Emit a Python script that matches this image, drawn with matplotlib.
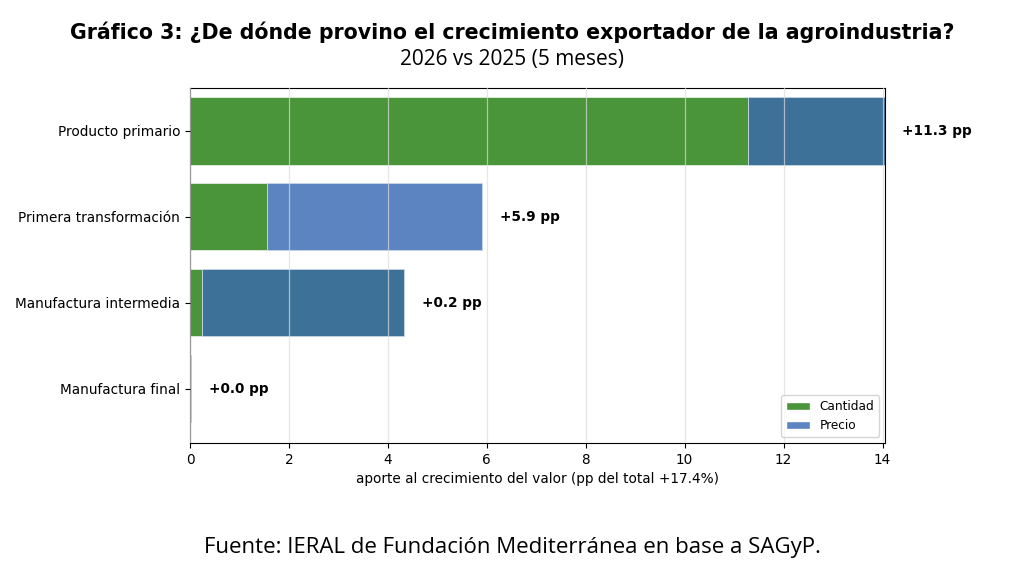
import numpy as np
import matplotlib.pyplot as plt
from matplotlib.patches import Patch

categorias = ['Producto primario', 'Primera transformación', 'Manufactura intermedia', 'Manufactura final']
cantidad = [11.29, 1.55, 0.24, 0.0]
precio = [2.76, 4.36, 4.09, 0.03]
etiquetas = ['+11.3 pp', '+5.9 pp', '+0.2 pp', '+0.0 pp']
color_precio = ['#3d7198', '#5b84c1', '#3d7198', '#5b84c1']

fig = plt.figure(figsize=(10.24, 5.63), dpi=100)
ax = fig.add_axes([190/1024, 1 - 443/563, 695/1024, 355/563])

y = np.arange(len(categorias))
total = np.array(cantidad) + np.array(precio)

ax.barh(y, cantidad, height=0.78, color='#4a943a', edgecolor='white', linewidth=0.4, zorder=2)
ax.barh(y, precio, left=cantidad, height=0.78, color=color_precio, edgecolor='#c8d6e8', linewidth=0.6, zorder=2)

for i in range(len(categorias)):
    ax.text(total[i] + 0.35, y[i], etiquetas[i], va='center', ha='left', fontsize=9.8, fontweight='bold')

ax.set_yticks(y)
ax.set_yticklabels(categorias, fontsize=9.8)
ax.set_ylim(3.63, -0.5)
ax.set_xlim(0, total.max())
ax.set_xticks(np.arange(0, 15, 2))
ax.tick_params(axis='x', labelsize=9.8)
ax.grid(axis='x', color='#dcdcdc', alpha=0.7, linewidth=0.9, zorder=3)
ax.set_axisbelow(False)
ax.set_xlabel('aporte al crecimiento del valor (pp del total +17.4%)', fontsize=9.8)

handles = [Patch(facecolor='#4a943a', edgecolor='white'), Patch(facecolor='#5b84c1', edgecolor='white')]
ax.legend(handles, ['Cantidad', 'Precio'], loc='lower right', fontsize=8.7)

fig.text(0.5, 1 - 32/563, 'Gráfico 3: ¿De dónde provino el crecimiento exportador de la agroindustria?',
         ha='center', va='center', fontsize=14.8, fontweight='bold', family='DejaVu Sans')
fig.text(0.5, 1 - 59/563, '2026 vs 2025 (5 meses)', ha='center', va='center', fontsize=15, family='Open Sans')
fig.text(0.5, 1 - 547/563, 'Fuente: IERAL de Fundación Mediterránea en base a SAGyP.',
         ha='center', va='center', fontsize=16, family='Open Sans')

fig.savefig('out.png', dpi=100)
